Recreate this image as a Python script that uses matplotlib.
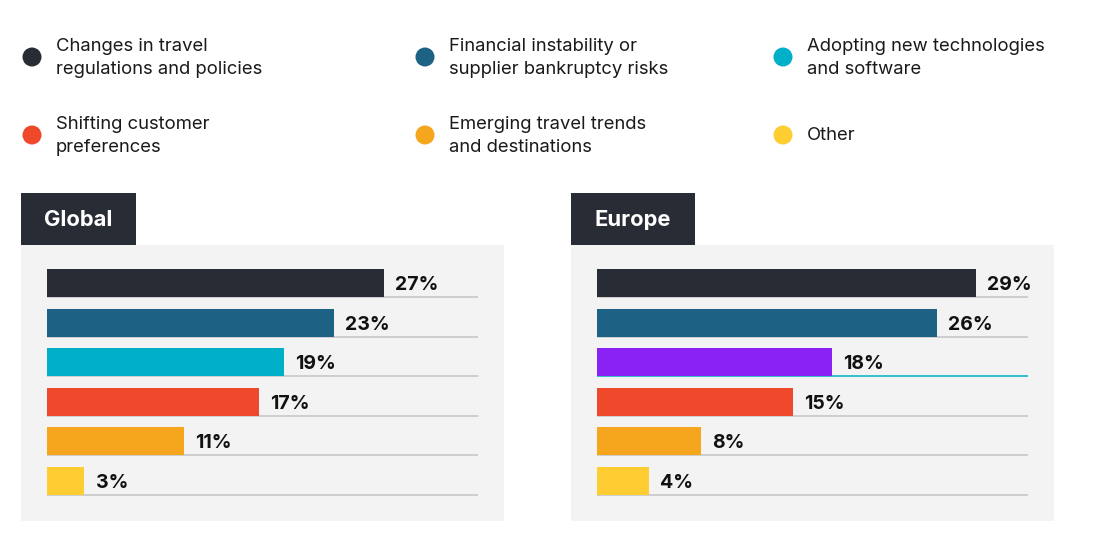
"""
Two-panel horizontal bar chart: top industry concerns, Global vs Europe.
Drawn on a pixel-space overlay axes for the frame, legend and tabs.
"""

import matplotlib
matplotlib.use('Agg')
import matplotlib.pyplot as plt
from matplotlib.patches import Rectangle, Circle

plt.rcParams['font.family'] = ['Inter', 'DejaVu Sans']

# ── Data ──────────────────────────────────────────────────────
CATEGORIES = [
    'Changes in travel\nregulations and policies',
    'Financial instability or\nsupplier bankruptcy risks',
    'Adopting new technologies\nand software',
    'Shifting customer\npreferences',
    'Emerging travel trends\nand destinations',
    'Other',
]
LEGEND_COLORS = ['#272c35', '#1d6285', '#00b0c8', '#ef482b', '#f5a61d', '#fdcd32']

GLOBAL_VALUES = [27, 23, 19, 17, 11, 3]
EUROPE_VALUES = [29, 26, 18, 15, 8, 4]
EUROPE_COLORS = ['#272c35', '#1d6285', '#8a21f5', '#ef482b', '#f5a61d', '#fdcd32']

W, H = 1097, 560
DARK = '#272c35'
PANEL = '#f3f3f3'
GRID = '#c4c4c4'

fig = plt.figure(figsize=(W / 100, H / 100), dpi=100)
fig.patch.set_facecolor('white')

# overlay in pixel coordinates (origin top-left)
bg = fig.add_axes([0, 0, 1, 1])
bg.set_xlim(0, W)
bg.set_ylim(H, 0)
bg.axis('off')


def fig_box(x0, y0, x1, y1):
    """pixel box (top-left origin) -> figure fraction rect"""
    return [x0 / W, 1 - y1 / H, (x1 - x0) / W, (y1 - y0) / H]


# ── Legend ────────────────────────────────────────────────────
leg_x = [32, 425, 783]
leg_y = [57, 135]
for i, (lab, col) in enumerate(zip(CATEGORIES, LEGEND_COLORS)):
    cx = leg_x[i % 3]
    cy = leg_y[i // 3]
    bg.add_patch(Circle((cx, cy), 9.5, color=col, lw=0))
    bg.text(cx + 24, cy + 1, lab, fontsize=13.3, color='#1a1a1a',
            va='center', ha='left', linespacing=1.5)


# ── Panels ────────────────────────────────────────────────────
def draw_panel(x0, tab_w, title, values, colors, xmax, cyan_line=None):
    # tab + gray panel
    bg.add_patch(Rectangle((x0, 193), tab_w, 52, color=DARK, lw=0))
    bg.add_patch(Rectangle((x0, 245), 483, 276, color=PANEL, lw=0))
    bg.text(x0 + 23, 220, title, fontsize=15.8, fontweight='bold',
            color='white', va='center', ha='left')

    ax = fig.add_axes(fig_box(x0 + 26, 263.2, x0 + 457, 500.8))
    ax.patch.set_alpha(0)
    ax.axis('off')
    ax.set_xlim(0, xmax)
    ax.set_ylim(5.5, -0.5)

    ypos = list(range(len(values)))
    for y in ypos:
        lc = cyan_line if (cyan_line and y == 2) else GRID
        ax.hlines(y + 0.355, 0, xmax, color=lc, lw=1.1, zorder=1)
    ax.barh(ypos, values, height=0.71, color=colors, zorder=2)
    for y, v in zip(ypos, values):
        ax.annotate(f'{v}%', xy=(v, y), xytext=(8, -1.5), textcoords='offset points',
                    fontsize=14, fontweight='bold', color='#111111',
                    va='center', ha='left')


draw_panel(21, 115, 'Global', GLOBAL_VALUES, LEGEND_COLORS, 34.5)
draw_panel(571, 124, 'Europe', EUROPE_VALUES, EUROPE_COLORS, 33.0, cyan_line='#00b0c8')

fig.savefig('out.png', dpi=100)
plt.close(fig)
